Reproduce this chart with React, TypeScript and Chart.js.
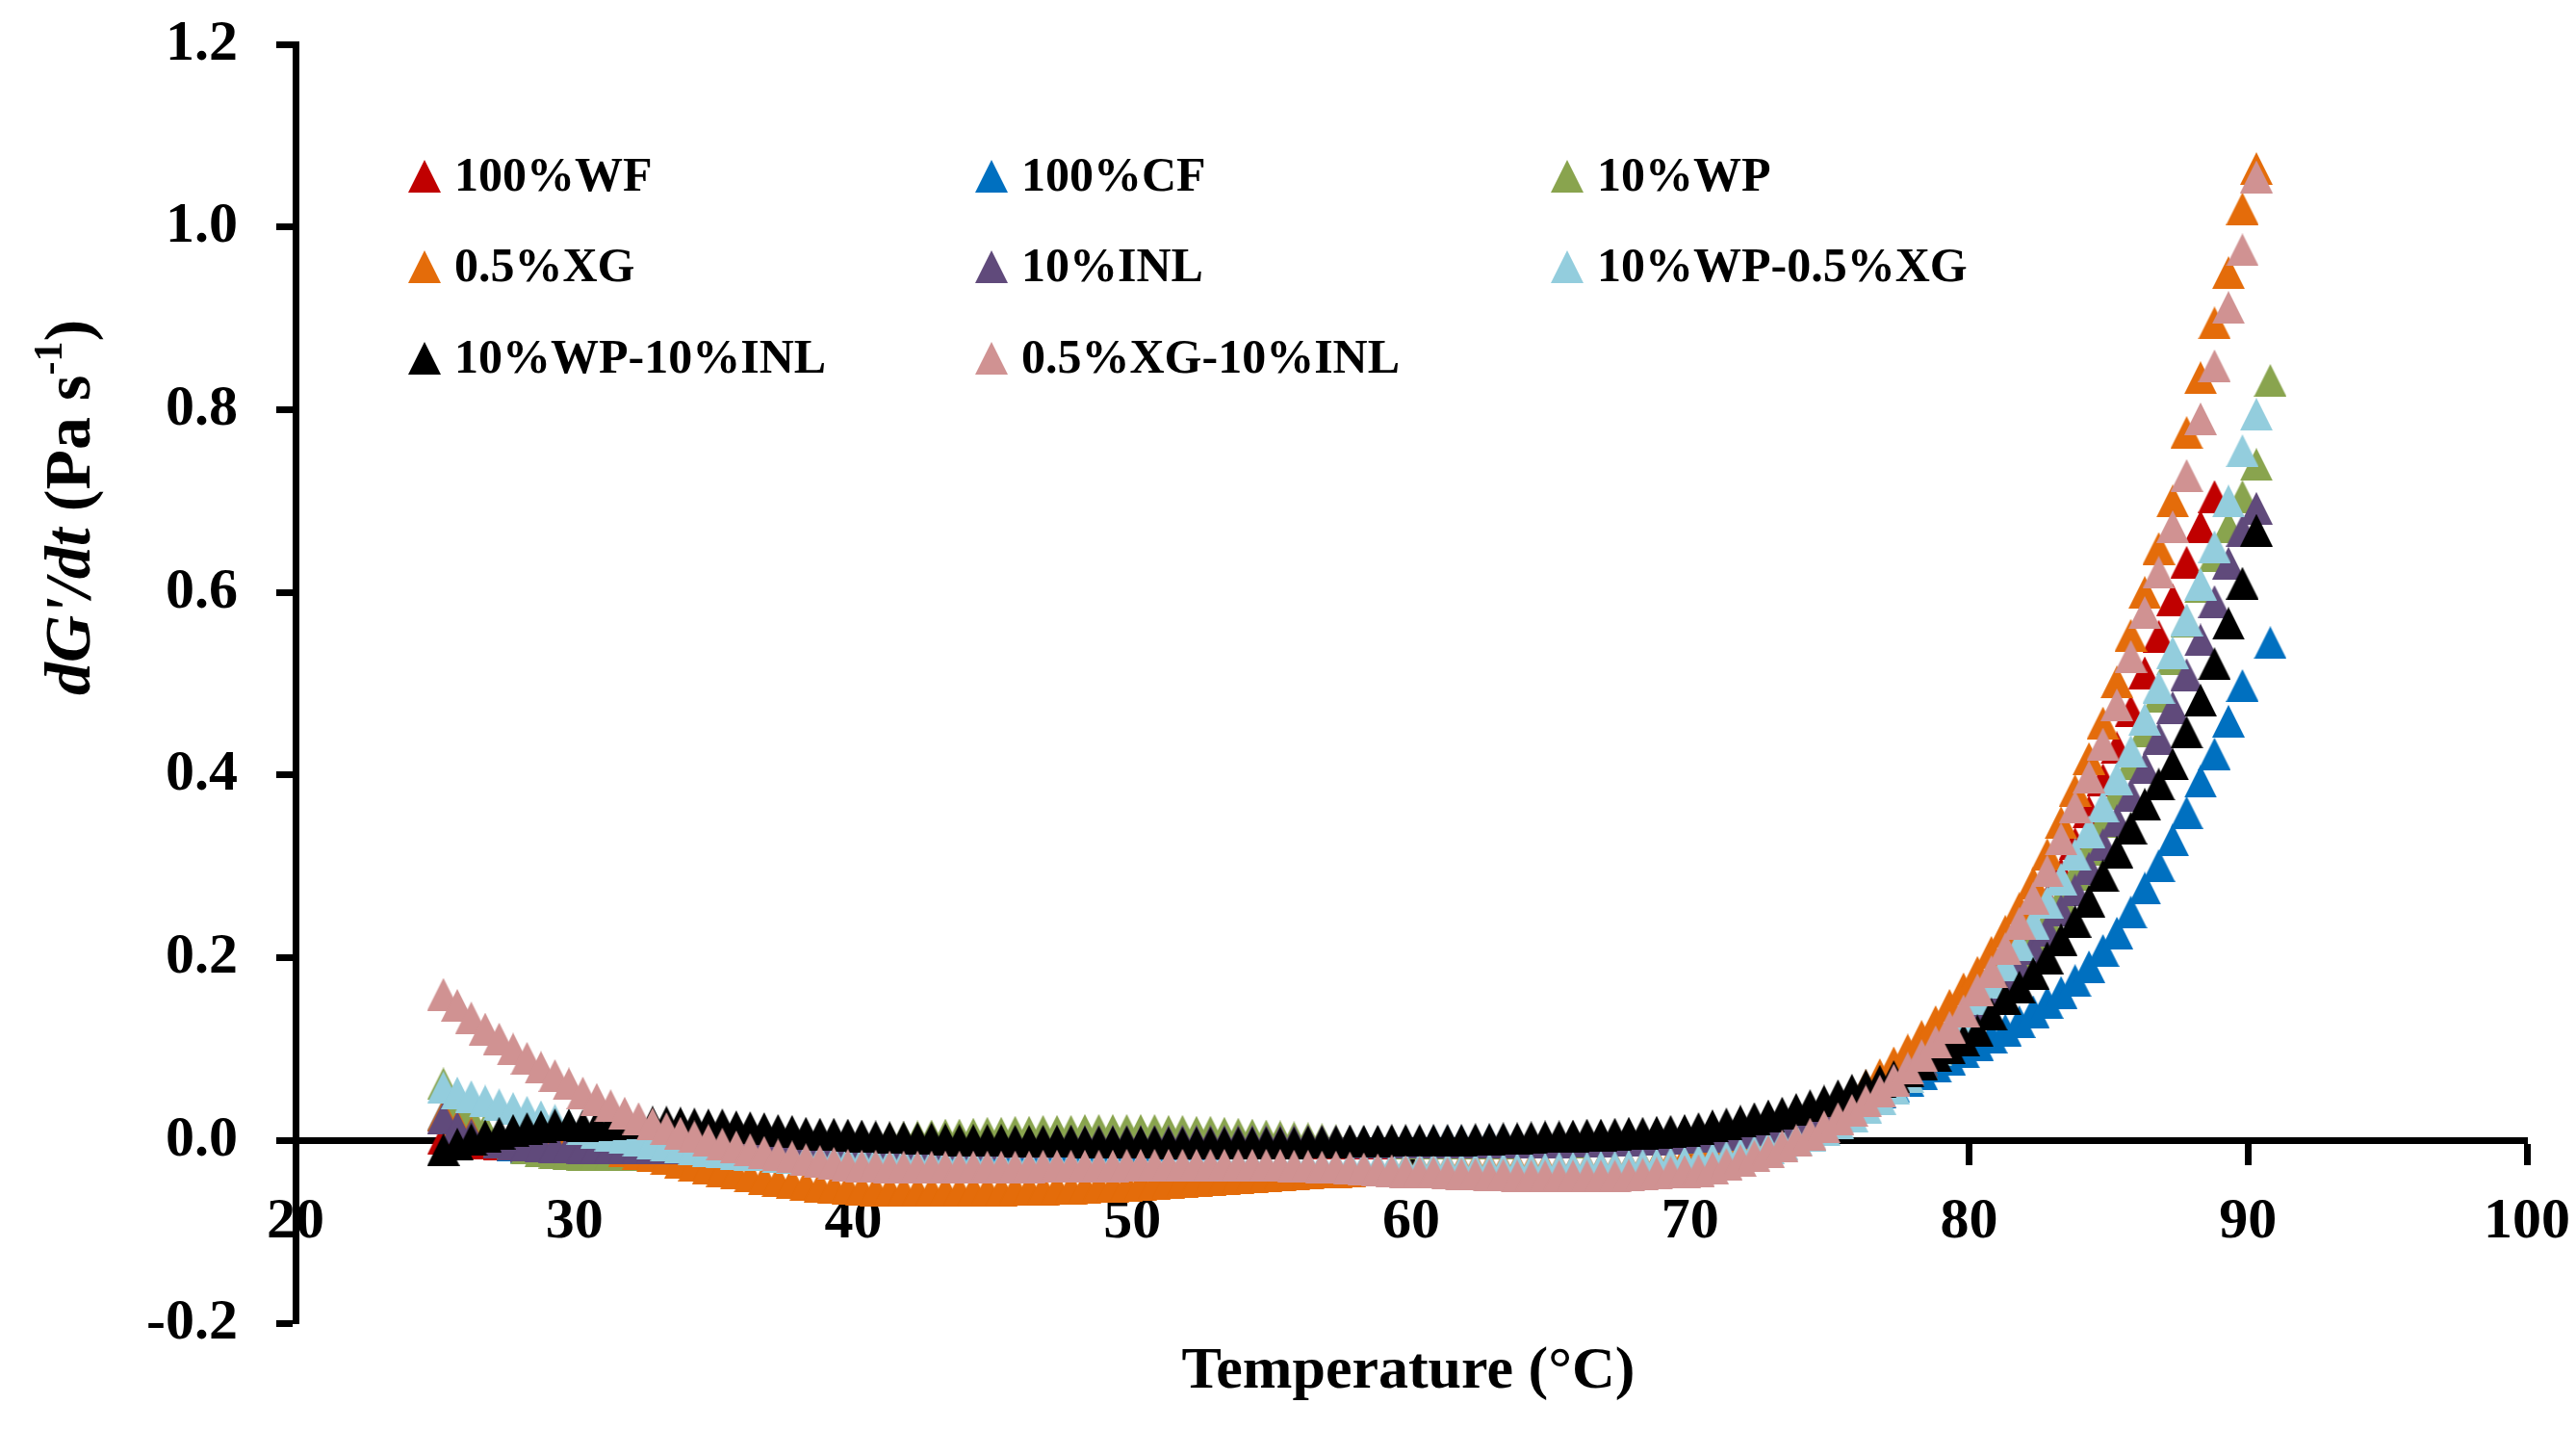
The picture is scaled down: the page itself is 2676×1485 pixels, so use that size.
import { useEffect, useRef } from 'react';
import { Chart, registerables } from 'chart.js';

Chart.register(...registerables);

// temperature (°C) at which each reading was taken
const temperatures = [
  25.3, 25.8, 26.3, 26.8, 27.3, 27.8, 28.3, 28.8, 29.3, 29.8,
  30.3, 30.8, 31.3, 31.8, 32.3, 32.8, 33.3, 33.8, 34.3, 34.8,
  35.3, 35.8, 36.3, 36.8, 37.3, 37.8, 38.3, 38.8, 39.3, 39.8,
  40.3, 40.8, 41.3, 41.8, 42.3, 42.8, 43.3, 43.8, 44.3, 44.8,
  45.3, 45.8, 46.3, 46.8, 47.3, 47.8, 48.3, 48.8, 49.3, 49.8,
  50.3, 50.8, 51.3, 51.8, 52.3, 52.8, 53.3, 53.8, 54.3, 54.8,
  55.3, 55.8, 56.3, 56.8, 57.3, 57.8, 58.3, 58.8, 59.3, 59.8,
  60.3, 60.8, 61.3, 61.8, 62.3, 62.8, 63.3, 63.8, 64.3, 64.8,
  65.3, 65.8, 66.3, 66.8, 67.3, 67.8, 68.3, 68.8, 69.3, 69.8,
  70.3, 70.8, 71.3, 71.8, 72.3, 72.8, 73.3, 73.8, 74.3, 74.8,
  75.3, 75.8, 76.3, 76.8, 77.3, 77.8, 78.3, 78.8, 79.3, 79.8,
  80.3, 80.8, 81.3, 81.8, 82.3, 82.8, 83.3, 83.8, 84.3, 84.8,
  85.3, 85.8, 86.3, 86.8, 87.3, 87.8, 88.3, 88.8, 89.3, 89.8,
  90.3, 90.8,
];

const wf100 = [
  0.002, 0.000, -0.002, -0.003, -0.004, -0.005, -0.006, -0.006, -0.007, -0.007,
  -0.008, -0.008, -0.008, -0.008, -0.008, -0.008, -0.008, -0.008, -0.008, -0.008,
  -0.008, -0.007, -0.007, -0.007, -0.007, -0.007, -0.006, -0.006, -0.006, -0.006,
  -0.006, -0.006, -0.005, -0.005, -0.005, -0.005, -0.005, -0.005, -0.005, -0.005,
  -0.005, -0.004, -0.004, -0.004, -0.004, -0.004, -0.004, -0.004, -0.004, -0.004,
  -0.004, -0.004, -0.004, -0.004, -0.003, -0.003, -0.003, -0.003, -0.003, -0.003,
  -0.003, -0.003, -0.003, -0.003, -0.003, -0.003, -0.003, -0.003, -0.003, -0.003,
  -0.003, -0.003, -0.003, -0.003, -0.002, -0.002, -0.002, -0.002, -0.002, -0.001,
  -0.001, -0.001, 0.000, 0.000, 0.000, 0.001, 0.001, 0.001, 0.002, 0.002,
  0.003, 0.005, 0.007, 0.009, 0.012, 0.015, 0.018, 0.022, 0.026, 0.031,
  0.037, 0.043, 0.050, 0.058, 0.067, 0.077, 0.088, 0.100, 0.113, 0.127,
  0.150, 0.168, 0.188, 0.210, 0.235, 0.262, 0.292, 0.325, 0.360, 0.395,
  0.430, 0.470, 0.512, 0.552, 0.592, 0.633, 0.672, 0.705, null, null,
  null, null,
];

const cf100 = [
  0.028, 0.016, 0.008, 0.002, -0.002, -0.005, -0.007, -0.008, -0.009, -0.010,
  -0.010, -0.011, -0.011, -0.011, -0.011, -0.011, -0.011, -0.011, -0.011, -0.011,
  -0.011, -0.011, -0.011, -0.010, -0.010, -0.010, -0.010, -0.010, -0.010, -0.010,
  -0.009, -0.009, -0.009, -0.009, -0.009, -0.008, -0.008, -0.008, -0.008, -0.008,
  -0.008, -0.007, -0.007, -0.007, -0.006, -0.006, -0.006, -0.006, -0.005, -0.005,
  -0.005, -0.005, -0.004, -0.004, -0.004, -0.004, -0.003, -0.003, -0.003, -0.003,
  -0.003, -0.003, -0.002, -0.002, -0.002, -0.002, -0.002, -0.002, -0.002, -0.002,
  -0.002, -0.001, -0.001, -0.001, -0.001, 0.000, 0.000, 0.000, 0.000, 0.000,
  0.001, 0.001, 0.001, 0.002, 0.002, 0.002, 0.003, 0.003, 0.004, 0.005,
  0.006, 0.007, 0.009, 0.011, 0.013, 0.016, 0.019, 0.023, 0.027, 0.031,
  0.036, 0.041, 0.047, 0.053, 0.059, 0.066, 0.073, 0.081, 0.089, 0.097,
  0.105, 0.113, 0.121, 0.130, 0.141, 0.151, 0.162, 0.175, 0.190, 0.208,
  0.227, 0.250, 0.276, 0.301, 0.329, 0.359, 0.393, 0.423, 0.459, 0.498,
  null, 0.545,
];

const wp10 = [
  0.062, 0.040, 0.025, 0.013, 0.004, -0.003, -0.008, -0.011, -0.013, -0.014,
  -0.015, -0.016, -0.016, -0.016, -0.016, -0.015, -0.014, -0.013, -0.012, -0.011,
  -0.010, -0.009, -0.008, -0.007, -0.006, -0.005, -0.004, -0.003, -0.002, -0.001,
  0.000, 0.001, 0.002, 0.003, 0.004, 0.005, 0.006, 0.006, 0.007, 0.008,
  0.008, 0.009, 0.009, 0.010, 0.010, 0.010, 0.011, 0.011, 0.011, 0.011,
  0.011, 0.011, 0.010, 0.010, 0.009, 0.009, 0.008, 0.007, 0.006, 0.005,
  0.004, 0.003, 0.002, 0.001, 0.000, -0.001, -0.002, -0.002, -0.002, -0.003,
  -0.003, -0.003, -0.003, -0.003, -0.003, -0.003, -0.003, -0.002, -0.002, -0.002,
  -0.002, -0.002, -0.001, -0.001, 0.000, 0.000, 0.001, 0.001, 0.002, 0.002,
  0.003, 0.005, 0.007, 0.009, 0.012, 0.015, 0.018, 0.022, 0.026, 0.031,
  0.037, 0.043, 0.050, 0.058, 0.067, 0.077, 0.088, 0.100, 0.113, 0.127,
  0.142, 0.159, 0.177, 0.197, 0.218, 0.241, 0.265, 0.291, 0.319, 0.349,
  0.380, 0.412, 0.448, 0.486, 0.527, 0.568, 0.606, 0.640, 0.672, 0.705,
  0.740, 0.832,
];

const xg05 = [
  0.028, 0.016, 0.008, 0.003, 0.000, -0.001, -0.002, -0.002, -0.002, -0.002,
  -0.003, -0.005, -0.008, -0.011, -0.014, -0.017, -0.020, -0.024, -0.027, -0.030,
  -0.033, -0.036, -0.039, -0.042, -0.044, -0.046, -0.048, -0.050, -0.051, -0.052,
  -0.053, -0.054, -0.054, -0.055, -0.055, -0.055, -0.055, -0.055, -0.054, -0.054,
  -0.054, -0.053, -0.053, -0.053, -0.052, -0.052, -0.051, -0.050, -0.050, -0.049,
  -0.048, -0.047, -0.046, -0.045, -0.044, -0.043, -0.042, -0.041, -0.040, -0.039,
  -0.038, -0.037, -0.036, -0.035, -0.034, -0.033, -0.032, -0.031, -0.031, -0.030,
  -0.030, -0.030, -0.030, -0.030, -0.030, -0.030, -0.030, -0.030, -0.030, -0.030,
  -0.030, -0.030, -0.030, -0.029, -0.029, -0.028, -0.027, -0.025, -0.023, -0.020,
  -0.017, -0.014, -0.010, -0.006, -0.002, 0.003, 0.009, 0.015, 0.022, 0.030,
  0.039, 0.049, 0.060, 0.072, 0.085, 0.099, 0.114, 0.130, 0.148, 0.166,
  0.184, 0.206, 0.229, 0.254, 0.282, 0.313, 0.348, 0.383, 0.418, 0.457,
  0.502, 0.553, 0.600, 0.648, 0.700, 0.775, 0.835, 0.895, 0.950, 1.020,
  1.064, null,
];

const inl10 = [
  0.025, 0.014, 0.006, 0.001, -0.002, -0.004, -0.005, -0.006, -0.007, -0.007,
  -0.008, -0.008, -0.008, -0.008, -0.008, -0.008, -0.008, -0.008, -0.008, -0.008,
  -0.007, -0.007, -0.007, -0.007, -0.006, -0.006, -0.006, -0.006, -0.005, -0.005,
  -0.005, -0.005, -0.004, -0.004, -0.004, -0.004, -0.003, -0.003, -0.003, -0.003,
  -0.002, -0.002, -0.002, -0.002, -0.001, -0.001, -0.001, -0.001, -0.001, -0.001,
  -0.001, -0.001, -0.001, -0.001, -0.001, -0.001, -0.001, -0.001, -0.001, -0.001,
  -0.001, -0.001, -0.001, -0.001, -0.001, -0.001, -0.002, -0.002, -0.002, -0.002,
  -0.002, -0.002, -0.002, -0.002, -0.002, -0.002, -0.002, -0.002, -0.002, -0.002,
  -0.002, -0.001, -0.001, -0.001, 0.000, 0.000, 0.001, 0.001, 0.002, 0.003,
  0.004, 0.005, 0.007, 0.009, 0.012, 0.015, 0.018, 0.022, 0.026, 0.031,
  0.037, 0.043, 0.050, 0.058, 0.067, 0.077, 0.088, 0.099, 0.111, 0.124,
  0.140, 0.156, 0.172, 0.190, 0.210, 0.230, 0.252, 0.274, 0.298, 0.324,
  0.350, 0.378, 0.408, 0.440, 0.474, 0.510, 0.548, 0.590, 0.632, 0.668,
  0.692, null,
];

const wp10xg05 = [
  0.058, 0.052, 0.048, 0.043, 0.039, 0.035, 0.031, 0.026, 0.022, 0.017,
  0.013, 0.009, 0.006, 0.003, 0.000, -0.003, -0.005, -0.007, -0.009, -0.011,
  -0.012, -0.014, -0.015, -0.016, -0.018, -0.019, -0.020, -0.021, -0.022, -0.022,
  -0.023, -0.023, -0.024, -0.024, -0.025, -0.025, -0.025, -0.025, -0.025, -0.026,
  -0.026, -0.026, -0.026, -0.026, -0.026, -0.026, -0.026, -0.026, -0.026, -0.026,
  -0.026, -0.026, -0.026, -0.026, -0.026, -0.026, -0.026, -0.026, -0.026, -0.027,
  -0.027, -0.027, -0.027, -0.028, -0.028, -0.028, -0.029, -0.029, -0.029, -0.030,
  -0.030, -0.030, -0.030, -0.031, -0.031, -0.031, -0.031, -0.031, -0.031, -0.031,
  -0.030, -0.030, -0.030, -0.029, -0.029, -0.028, -0.027, -0.026, -0.025, -0.024,
  -0.022, -0.020, -0.018, -0.015, -0.012, -0.008, -0.004, 0.001, 0.006, 0.012,
  0.019, 0.027, 0.036, 0.046, 0.057, 0.070, 0.084, 0.099, 0.116, 0.135,
  0.155, 0.173, 0.192, 0.214, 0.238, 0.261, 0.286, 0.313, 0.338, 0.366,
  0.396, 0.426, 0.461, 0.496, 0.534, 0.570, 0.609, 0.650, 0.700, 0.755,
  0.795, null,
];

const wp10inl10 = [
  -0.010, -0.004, 0.001, 0.005, 0.008, 0.011, 0.013, 0.015, 0.017, 0.017,
  0.016, 0.017, 0.018, 0.019, 0.020, 0.020, 0.020, 0.019, 0.018, 0.017,
  0.017, 0.015, 0.014, 0.013, 0.011, 0.010, 0.008, 0.007, 0.007, 0.006,
  0.005, 0.004, 0.003, 0.003, 0.002, 0.002, 0.001, 0.000, 0.000, 0.000,
  0.000, -0.001, -0.001, -0.001, -0.001, -0.001, -0.002, -0.002, -0.002, -0.002,
  -0.002, -0.002, -0.003, -0.003, -0.003, -0.003, -0.003, -0.003, -0.003, -0.003,
  -0.003, -0.003, -0.002, -0.002, -0.002, -0.001, -0.001, -0.001, 0.000, 0.000,
  0.000, 0.000, 0.000, 0.000, 0.001, 0.001, 0.002, 0.002, 0.003, 0.004,
  0.004, 0.005, 0.006, 0.006, 0.007, 0.008, 0.008, 0.009, 0.010, 0.011,
  0.013, 0.016, 0.018, 0.021, 0.024, 0.027, 0.030, 0.034, 0.038, 0.043,
  0.049, 0.055, 0.060, 0.065, 0.070, 0.076, 0.084, 0.093, 0.101, 0.110,
  0.120, 0.138, 0.155, 0.168, 0.183, 0.200, 0.220, 0.240, 0.262, 0.290,
  0.316, 0.342, 0.368, 0.390, 0.412, 0.447, 0.482, 0.522, 0.566, 0.610,
  0.668, null,
];

const xg05inl10 = [
  0.160, 0.148, 0.134, 0.122, 0.111, 0.100, 0.090, 0.080, 0.071, 0.062,
  0.052, 0.045, 0.038, 0.030, 0.024, 0.018, 0.013, 0.008, 0.004, 0.000,
  -0.004, -0.007, -0.010, -0.013, -0.016, -0.018, -0.021, -0.023, -0.025, -0.027,
  -0.028, -0.028, -0.029, -0.029, -0.029, -0.029, -0.029, -0.029, -0.029, -0.029,
  -0.029, -0.029, -0.029, -0.028, -0.028, -0.028, -0.028, -0.028, -0.028, -0.027,
  -0.027, -0.027, -0.027, -0.027, -0.027, -0.027, -0.027, -0.027, -0.027, -0.027,
  -0.027, -0.028, -0.028, -0.029, -0.029, -0.030, -0.031, -0.032, -0.033, -0.034,
  -0.035, -0.035, -0.036, -0.037, -0.037, -0.038, -0.038, -0.039, -0.039, -0.039,
  -0.039, -0.039, -0.039, -0.039, -0.039, -0.038, -0.037, -0.036, -0.035, -0.034,
  -0.033, -0.030, -0.026, -0.022, -0.017, -0.012, -0.006, 0.000, 0.007, 0.015,
  0.024, 0.033, 0.043, 0.054, 0.066, 0.079, 0.093, 0.108, 0.124, 0.142,
  0.165, 0.185, 0.210, 0.238, 0.265, 0.295, 0.330, 0.365, 0.398, 0.434,
  0.477, 0.530, 0.578, 0.622, 0.672, 0.728, 0.790, 0.848, 0.912, 0.975,
  1.055, null,
];

const seriesNames = [
  '100%WF', '100%CF', '10%WP',
  '0.5%XG', '10%INL', '10%WP-0.5%XG',
  '10%WP-10%INL', '0.5%XG-10%INL',
];
const seriesValues = [wf100, cf100, wp10, xg05, inl10, wp10xg05, wp10inl10, xg05inl10];
const seriesColors = [
  '#C00000', '#0070C0', '#89A44E',
  '#E46C0A', '#604A7B', '#93CDDD',
  '#000000', '#D09292',
];

const FONT = '"Liberation Serif", "Times New Roman", serif';

function makeTriangle(color: string) {
  const c = document.createElement('canvas');
  c.width = 34;
  c.height = 34;
  const g = c.getContext('2d')!;
  g.fillStyle = color;
  g.beginPath();
  g.moveTo(17, 0);
  g.lineTo(34, 34);
  g.lineTo(0, 34);
  g.closePath();
  g.fill();
  return c;
}

export default function App() {
  const chartRef = useRef<HTMLCanvasElement>(null);

  useEffect(() => {
    if (!chartRef.current) return;

    const markers = seriesColors.map(makeTriangle);

    const datasets = seriesNames.map((name, s) => ({
      label: name,
      data: temperatures
        .map((t, i) => (seriesValues[s][i] == null ? null : { x: t, y: seriesValues[s][i] }))
        .filter((p) => p !== null),
      pointStyle: markers[s],
      pointRadius: 17,
      pointHoverRadius: 17,
      backgroundColor: seriesColors[s],
      borderColor: seriesColors[s],
      showLine: false,
      // later series sit on top, as in the original
      order: seriesNames.length - s,
    }));

    const decorations = {
      id: 'decorations',
      afterDraw(chart: any) {
        const ctx = chart.ctx as CanvasRenderingContext2D;
        ctx.save();
        ctx.fillStyle = '#000';

        // x axis title
        ctx.font = `bold 62px ${FONT}`;
        ctx.textAlign = 'center';
        ctx.textBaseline = 'middle';
        ctx.fillText('Temperature (°C)', 1463, 1425);

        // y axis title: dG'/dt (Pa s-1)
        const parts = [
          { t: "dG'/dt", f: `italic bold 68px ${FONT}`, dy: 0 },
          { t: ' (Pa s', f: `bold 68px ${FONT}`, dy: 0 },
          { t: '-1', f: `bold 42px ${FONT}`, dy: -22 },
          { t: ')', f: `bold 68px ${FONT}`, dy: 0 },
        ];
        let total = 0;
        const widths = parts.map((p) => {
          ctx.font = p.f;
          const w = ctx.measureText(p.t).width;
          total += w;
          return w;
        });
        ctx.translate(75, 527);
        ctx.rotate(-Math.PI / 2);
        ctx.textAlign = 'left';
        let x = -total / 2;
        parts.forEach((p, i) => {
          ctx.font = p.f;
          ctx.fillText(p.t, x, p.dy);
          x += widths[i];
        });
        ctx.restore();

        // legend, three columns
        ctx.save();
        const colX = [441, 1030, 1628];
        const rowY = [183, 277, 372];
        ctx.font = `bold 50px ${FONT}`;
        ctx.textAlign = 'left';
        ctx.textBaseline = 'middle';
        ctx.fillStyle = '#000';
        seriesNames.forEach((name, i) => {
          const cx = colX[i % 3];
          const cy = rowY[Math.floor(i / 3)];
          ctx.drawImage(markers[i], cx - 17, cy - 17);
          ctx.fillText(name, cx + 31, cy + 2);
        });
        ctx.restore();
      },
    };

    const chart = new Chart(chartRef.current, {
      type: 'scatter',
      data: { datasets: datasets as any },
      options: {
        responsive: false,
        animation: false,
        devicePixelRatio: 1,
        layout: { padding: { top: 46, right: 51, bottom: 111, left: 0 } },
        plugins: {
          legend: { display: false },
          tooltip: { enabled: false },
        },
        scales: {
          x: {
            type: 'linear',
            position: { y: 0 } as any,
            min: 20,
            max: 100,
            ticks: {
              stepSize: 10,
              color: '#000',
              padding: 27,
              maxRotation: 0,
              font: { family: FONT, size: 60, weight: 'bold' },
            },
            grid: {
              drawOnChartArea: false,
              drawTicks: true,
              tickLength: 22,
              tickWidth: 7,
              tickColor: '#000',
            },
            border: { color: '#000', width: 7 },
            afterFit: (scale: any) => {
              scale.height = 0;
              scale.paddingLeft = 0;
              scale.paddingRight = 0;
            },
          },
          y: {
            type: 'linear',
            position: 'left',
            min: -0.2,
            max: 1.2,
            ticks: {
              stepSize: 0.2,
              color: '#000',
              padding: 40,
              font: { family: FONT, size: 60, weight: 'bold' },
              callback: (v: any) => (Math.abs(Number(v)) < 1e-9 ? '0.0' : Number(v).toFixed(1)),
            },
            grid: {
              drawOnChartArea: false,
              drawTicks: true,
              tickLength: 20,
              tickWidth: 7,
              tickColor: '#000',
            },
            border: { color: '#000', width: 7 },
            afterFit: (scale: any) => {
              scale.width = 307;
              scale.paddingTop = 0;
              scale.paddingBottom = 0;
            },
          },
        },
      },
      plugins: [decorations],
    } as any);

    return () => {
      chart.destroy();
    };
  }, []);

  return (
    <div style={{ position: 'fixed', left: 0, top: 0, width: 2676, height: 1485, background: '#fff' }}>
      <canvas ref={chartRef} width={2676} height={1485} style={{ width: 2676, height: 1485 }}></canvas>
    </div>
  );
}
